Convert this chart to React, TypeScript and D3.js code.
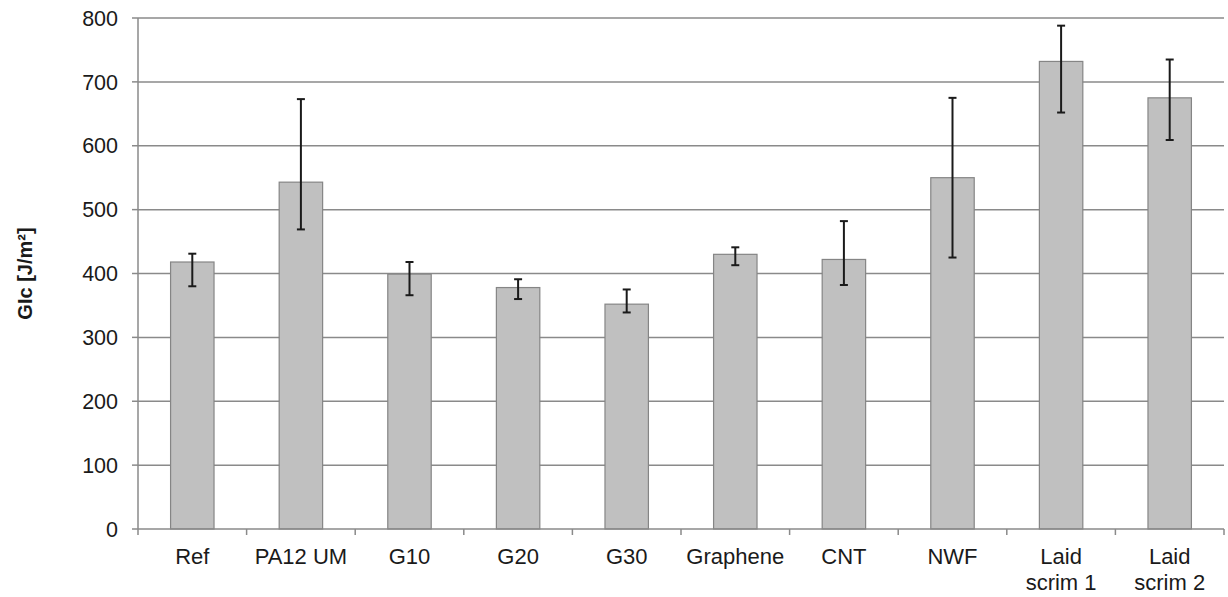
import React, { useEffect, useRef } from "react";
import * as d3 from "d3";

// values
const categories = ["Ref", "PA12 UM", "G10", "G20", "G30", "Graphene", "CNT", "NWF", "Laid scrim 1", "Laid scrim 2"];
const meanValues = [418, 543, 399, 378, 352, 430, 422, 550, 732, 675];
const upperValues = [431, 673, 418, 391, 375, 441, 482, 675, 788, 735];
const lowerValues = [380, 469, 366, 360, 339, 413, 382, 425, 652, 609];
const yTicks = [0, 100, 200, 300, 400, 500, 600, 700, 800];

// labels that wrap over two lines
const labelLines: Record<string, string[]> = {
  "Laid scrim 1": ["Laid", "scrim 1"],
  "Laid scrim 2": ["Laid", "scrim 2"],
};

const W = 1228;
const H = 597;
const font = "'Liberation Sans', Arial, sans-serif";

const App = () => {
  const ref = useRef<SVGSVGElement>(null);

  useEffect(() => {
    const margin = { top: 18, right: 4, bottom: 68, left: 138 };
    const svg = d3.select(ref.current);
    svg.selectAll("*").remove();

    const x = d3
      .scaleBand()
      .domain(categories)
      .range([margin.left, W - margin.right])
      .paddingInner(0.6)
      .paddingOuter(0.3);
    const y = d3.scaleLinear().domain([0, 800]).range([H - margin.bottom, margin.top]);

    const gridColor = "#8a8a8a";

    // gridlines
    svg
      .append("g")
      .selectAll("line")
      .data(yTicks.filter((t) => t > 0))
      .enter()
      .append("line")
      .attr("x1", margin.left)
      .attr("x2", W - margin.right)
      .attr("y1", (d) => y(d))
      .attr("y2", (d) => y(d))
      .attr("stroke", gridColor)
      .attr("stroke-width", 1.5);

    // y axis line + ticks
    svg
      .append("line")
      .attr("x1", margin.left)
      .attr("x2", margin.left)
      .attr("y1", y(800))
      .attr("y2", y(0))
      .attr("stroke", gridColor)
      .attr("stroke-width", 1.5);

    svg
      .append("g")
      .selectAll("line")
      .data(yTicks)
      .enter()
      .append("line")
      .attr("x1", margin.left - 6)
      .attr("x2", margin.left)
      .attr("y1", (d) => y(d))
      .attr("y2", (d) => y(d))
      .attr("stroke", gridColor)
      .attr("stroke-width", 1.5);

    svg
      .append("g")
      .selectAll("text")
      .data(yTicks)
      .enter()
      .append("text")
      .attr("x", margin.left - 20)
      .attr("y", (d) => y(d))
      .attr("dy", "0.36em")
      .attr("text-anchor", "end")
      .attr("font-family", font)
      .attr("font-size", 21.5)
      .attr("fill", "#1a1a1a")
      .text((d) => d);

    // y axis title
    svg
      .append("text")
      .attr("transform", `translate(32, ${(y(0) + y(800)) / 2}) rotate(-90)`)
      .attr("text-anchor", "middle")
      .attr("font-family", font)
      .attr("font-size", 20)
      .attr("font-weight", "bold")
      .attr("fill", "#1a1a1a")
      .text("GIc [J/m²]");

    // bars
    svg
      .append("g")
      .selectAll("rect")
      .data(categories)
      .enter()
      .append("rect")
      .attr("x", (d) => x(d)!)
      .attr("width", x.bandwidth())
      .attr("y", (d, i) => y(meanValues[i]))
      .attr("height", (d, i) => y(0) - y(meanValues[i]))
      .attr("fill", "#c0c0c0")
      .attr("stroke", "#858585")
      .attr("stroke-width", 1.2);

    // x axis line + ticks at category boundaries
    svg
      .append("line")
      .attr("x1", margin.left)
      .attr("x2", W - margin.right)
      .attr("y1", y(0))
      .attr("y2", y(0))
      .attr("stroke", gridColor)
      .attr("stroke-width", 1.5);

    const step = x.step();
    const bounds = d3.range(categories.length + 1).map((i) => margin.left + i * step);
    svg
      .append("g")
      .selectAll("line")
      .data(bounds)
      .enter()
      .append("line")
      .attr("x1", (d) => d)
      .attr("x2", (d) => d)
      .attr("y1", y(0))
      .attr("y2", y(0) + 6)
      .attr("stroke", gridColor)
      .attr("stroke-width", 1.5);

    // error bars
    const err = svg.append("g").attr("stroke", "#1a1a1a").attr("stroke-width", 2);
    categories.forEach((c, i) => {
      const cx = x(c)! + x.bandwidth() / 2;
      err.append("line").attr("x1", cx).attr("x2", cx).attr("y1", y(upperValues[i])).attr("y2", y(lowerValues[i]));
      [upperValues[i], lowerValues[i]].forEach((v) => {
        err.append("line").attr("x1", cx - 4).attr("x2", cx + 4).attr("y1", y(v)).attr("y2", y(v));
      });
    });

    // x labels
    const xl = svg.append("g");
    categories.forEach((c) => {
      const lines = labelLines[c] || [c];
      const t = xl
        .append("text")
        .attr("x", x(c)! + x.bandwidth() / 2)
        .attr("y", y(0) + 35)
        .attr("text-anchor", "middle")
        .attr("font-family", font)
        .attr("font-size", 22)
        .attr("fill", "#1a1a1a");
      lines.forEach((l, j) => {
        t.append("tspan")
          .attr("x", x(c)! + x.bandwidth() / 2)
          .attr("dy", j === 0 ? 0 : 26)
          .text(l);
      });
    });
  }, []);

  return (
    <svg
      ref={ref}
      width={W}
      height={H}
      style={{ position: "absolute", left: 0, top: 0, background: "#fff" }}
    />
  );
};

export default App;
